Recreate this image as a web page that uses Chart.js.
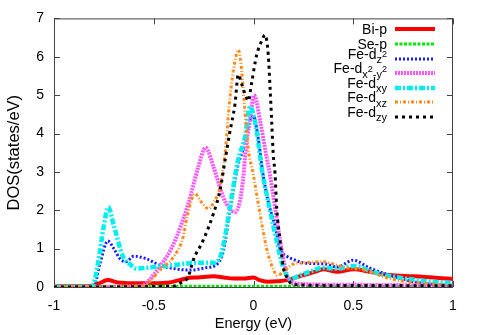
<!DOCTYPE html>
<html>
<head>
<meta charset="utf-8">
<script src="https://cdn.jsdelivr.net/npm/chart.js@4.4.0/dist/chart.umd.min.js"></script>
<style>
  html, body { margin: 0; padding: 0; background: #fff; }
  #wrap { width: 479px; height: 335px; }
</style>
</head>
<body>
<div id="wrap"><canvas id="dos-chart" width="479" height="335"></canvas></div>
<script>
// ---- data (energy in eV, DOS in states/eV) ----
const biE   = [-1, -0.82, -0.78, -0.73, -0.68, -0.6, -0.5, -0.42, -0.37, -0.32, -0.28, -0.2, -0.15, -0.1, -0.05, 0, 0.03, 0.07, 0.12, 0.17, 0.25, 0.3, 0.35, 0.42, 0.5, 0.58, 0.68, 0.8, 0.9, 1];
const biDos = [0.02, 0.02, 0.08, 0.18, 0.12, 0.1, 0.1, 0.12, 0.18, 0.24, 0.25, 0.28, 0.25, 0.22, 0.22, 0.25, 0.18, 0.14, 0.15, 0.18, 0.31, 0.38, 0.46, 0.4, 0.46, 0.4, 0.31, 0.28, 0.25, 0.21];

const seE   = [-1, -0.5, 0, 0.5, 1];
const seDos = [0.02, 0.02, 0.02, 0.02, 0.02];

const dz2E   = [-1, -0.8, -0.77, -0.73, -0.7, -0.67, -0.64, -0.6, -0.54, -0.47, -0.4, -0.32, -0.24, -0.18, -0.15, -0.12, -0.08, -0.05, -0.02, 0, 0.02, 0.05, 0.08, 0.11, 0.13, 0.17, 0.2, 0.25, 0.3, 0.36, 0.42, 0.5, 0.58, 0.68, 0.8, 0.9, 1];
const dz2Dos = [0, 0.02, 0.6, 1.2, 1.0, 0.74, 0.66, 0.8, 0.74, 0.57, 0.48, 0.44, 0.5, 0.61, 0.96, 1.91, 3.12, 3.63, 4.3, 4.45, 4.0, 2.86, 2.1, 1.56, 1.04, 0.79, 0.72, 0.63, 0.61, 0.6, 0.52, 0.7, 0.5, 0.31, 0.14, 0.07, 0.04];

const dx2y2E   = [-1, -0.57, -0.47, -0.4, -0.327, -0.277, -0.24, -0.2, -0.151, -0.12, -0.093, -0.059, -0.034, -0.018, 0.003, 0.033, 0.058, 0.083, 0.108, 0.133, 0.166, 0.2, 0.4, 0.7, 1];
const dx2y2Dos = [0, 0.02, 0.53, 1.13, 2.17, 3.12, 3.63, 3.12, 2.34, 2.05, 1.95, 2.5, 3.8, 4.33, 5.0, 4.33, 3.6, 2.9, 2.08, 1.22, 0.35, 0.1, 0.06, 0.05, 0.04];

const dxyE   = [-1, -0.81, -0.78, -0.75, -0.728, -0.7, -0.654, -0.62, -0.585, -0.5, -0.4, -0.32, -0.25, -0.2, -0.17, -0.153, -0.118, -0.078, -0.043, -0.017, 0.016, 0.041, 0.083, 0.116, 0.148, 0.183, 0.23, 0.283, 0.35, 0.417, 0.508, 0.584, 0.65, 0.75, 0.85, 0.92, 1];
const dxyDos = [0, 0, 0.6, 1.6, 2.08, 1.6, 0.79, 0.6, 0.48, 0.52, 0.57, 0.62, 0.63, 0.63, 0.75, 1.04, 2.08, 3.29, 3.9, 4.7, 4.07, 3.1, 2.0, 1.2, 0.53, 0.2, 0.3, 0.4, 0.5, 0.48, 0.55, 0.42, 0.32, 0.23, 0.16, 0.13, 0.1];

const dxzE   = [-1, -0.56, -0.5, -0.47, -0.4, -0.353, -0.335, -0.293, -0.26, -0.226, -0.2, -0.168, -0.143, -0.118, -0.093, -0.076, -0.059, -0.045, -0.026, 0, 0.033, 0.066, 0.1, 0.12, 0.15, 0.2, 0.25, 0.35, 0.417, 0.484, 0.55, 0.65, 0.75, 0.85, 1];
const dxzDos = [0, 0.02, 0.25, 0.44, 0.79, 1.3, 1.78, 2.43, 2.2, 2.04, 2.2, 2.6, 3.46, 4.93, 5.88, 6.18, 5.62, 4.7, 3.6, 2.9, 1.9, 1.0, 0.45, 0.3, 0.4, 0.6, 0.63, 0.66, 0.57, 0.48, 0.45, 0.27, 0.15, 0.1, 0.04];

const dzyE   = [-1, -0.4, -0.368, -0.327, -0.302, -0.252, -0.201, -0.168, -0.143, -0.12, -0.093, -0.076, -0.06, -0.04, -0.026, -0.01, 0.016, 0.04, 0.058, 0.074, 0.083, 0.091, 0.099, 0.108, 0.116, 0.133, 0.149, 0.166, 0.2, 0.5, 1];
const dzyDos = [0, 0.02, 0.1, 0.27, 0.7, 1.22, 1.91, 2.51, 3.29, 4.0, 4.76, 5.54, 5.3, 5.0, 4.85, 5.3, 6.05, 6.4, 6.57, 6.05, 5.19, 4.33, 3.46, 2.95, 2.08, 1.22, 0.53, 0.27, 0.06, 0.04, 0.03];

// gnuplot-style markup: _{..} subscript, ^c superscript
const seriesNames = ['Bi-p', 'Se-p', 'Fe-d_{z^2}', 'Fe-d_{x^2-y^2}', 'Fe-d_{xy}', 'Fe-d_{xz}', 'Fe-d_{zy}'];
const xTickLabels = ['-1', '-0.5', '0', '0.5', '1'];
const yTickLabels = ['0', '1', '2', '3', '4', '5', '6', '7'];

const FONT = "'Liberation Sans', Arial, Helvetica, sans-serif";

const pts = (e, d) => e.map((v, i) => ({ x: v, y: d[i] }));

const styles = [
  { color: '#ff0000', width: 4, dash: [] },
  { color: '#00e600', width: 3, dash: [3, 1.5] },
  { color: '#1a1aff', width: 3, dash: [2, 2] },
  { color: '#ff55ff', width: 4, dash: [2, 1] },
  { color: '#00f0f0', width: 4.5, dash: [6, 2, 2, 2] },
  { color: '#ff8c1a', width: 3, dash: [3, 2, 1, 2] },
  { color: '#000000', width: 3, dash: [3, 4] }
];

const seriesData = [
  pts(biE, biDos), pts(seE, seDos), pts(dz2E, dz2Dos), pts(dx2y2E, dx2y2Dos),
  pts(dxyE, dxyDos), pts(dxzE, dxzDos), pts(dzyE, dzyDos)
];

const datasets = seriesData.map((d, i) => ({
  label: seriesNames[i],
  data: d,
  borderColor: styles[i].color,
  borderWidth: styles[i].width,
  borderDash: styles[i].dash,
  pointRadius: 0,
  fill: false,
  cubicInterpolationMode: 'monotone',
  order: seriesNames.length - i   // later series drawn on top, like gnuplot
}));

function parseMarkup(str) {
  const segs = [];
  let mode = 'n';
  const push = (t, m) => {
    const last = segs[segs.length - 1];
    if (last && last.mode === m) last.t += t; else segs.push({ t, mode: m });
  };
  for (let i = 0; i < str.length; i++) {
    if (str.startsWith('_{', i)) { mode = 'sub'; i++; continue; }
    const c = str[i];
    if (c === '}') { mode = 'n'; continue; }
    if (c === '^') { push(str[i + 1], 'sup'); i++; continue; }
    push(c, mode);
  }
  return segs;
}

const segFont = { n: '14px ' + FONT, sub: '11px ' + FONT, sup: '9px ' + FONT };
const segShift = { n: 0, sub: 4.5, sup: -1.5 };

// frame + inward ticks on all four sides
const framePlugin = {
  id: 'frame',
  beforeDatasetsDraw(chart) {
    const { ctx, chartArea: a, scales: { x, y } } = chart;
    ctx.save();
    ctx.strokeStyle = '#444';
    ctx.lineWidth = 1;
    ctx.strokeRect(a.left + 0.5, a.top + 0.5, a.right - a.left - 1, a.bottom - a.top);
    ctx.beginPath();
    x.ticks.forEach(t => {
      const px = Math.round(x.getPixelForValue(t.value)) + 0.5;
      ctx.moveTo(px, a.bottom); ctx.lineTo(px, a.bottom - 6);
      ctx.moveTo(px, a.top); ctx.lineTo(px, a.top + 6);
    });
    y.ticks.forEach(t => {
      const py = Math.round(y.getPixelForValue(t.value)) + 0.5;
      ctx.moveTo(a.left, py); ctx.lineTo(a.left + 6, py);
      ctx.moveTo(a.right, py); ctx.lineTo(a.right - 6, py);
    });
    ctx.stroke();
    ctx.restore();
  }
};

// key in the upper right, text right-aligned with sample line after it
const keyPlugin = {
  id: 'gpKey',
  afterDatasetsDraw(chart) {
    const ctx = chart.ctx;
    const textRight = 387, lineL = 395, lineR = 435;
    ctx.save();
    chart.data.datasets.forEach((ds, i) => {
      const rowY = 29.3 + 14.6 * i;
      const segs = parseMarkup(ds.label);
      const hasSub = segs.some(s => s.mode !== 'n');
      const base = hasSub ? rowY : rowY + 5;
      let w = 0;
      segs.forEach(s => { ctx.font = segFont[s.mode]; s.w = ctx.measureText(s.t).width; w += s.w; });
      let cx = textRight - w;
      ctx.fillStyle = '#000';
      ctx.textBaseline = 'alphabetic';
      ctx.textAlign = 'left';
      segs.forEach(s => {
        ctx.font = segFont[s.mode];
        ctx.fillText(s.t, cx, base + segShift[s.mode]);
        cx += s.w;
      });
      ctx.beginPath();
      ctx.strokeStyle = ds.borderColor;
      ctx.lineWidth = ds.borderWidth;
      ctx.setLineDash(ds.borderDash);
      ctx.moveTo(lineL, Math.round(rowY));
      ctx.lineTo(lineR, Math.round(rowY));
      ctx.stroke();
    });
    ctx.restore();
  }
};

new Chart(document.getElementById('dos-chart').getContext('2d'), {
  type: 'line',
  data: { datasets },
  options: {
    responsive: false,
    animation: false,
    layout: { padding: { top: 17, right: 26, left: 0, bottom: 0 } },
    plugins: { legend: { display: false }, tooltip: { enabled: false } },
    scales: {
      x: {
        type: 'linear', min: -1, max: 1,
        afterFit: s => { s.height = 48; },
        grid: { display: false, drawTicks: false },
        border: { display: false },
        ticks: {
          stepSize: 0.5, padding: 11, color: '#000', maxRotation: 0,
          font: { family: FONT, size: 14 },
          callback: (v, i) => xTickLabels[i]
        },
        title: {
          display: true, text: 'Energy (eV)', color: '#000',
          font: { family: FONT, size: 14.5 }, padding: { top: 0, bottom: 2 }
        }
      },
      y: {
        min: 0, max: 7,
        afterFit: s => { s.width = 54; },
        grid: { display: false, drawTicks: false },
        border: { display: false },
        ticks: {
          stepSize: 1, padding: 10, color: '#000',
          font: { family: FONT, size: 14 },
          callback: (v, i) => yTickLabels[i]
        },
        title: {
          display: true, text: 'DOS(states/eV)', color: '#000',
          font: { family: FONT, size: 16.5 }, padding: { top: 5, bottom: 0 }
        }
      }
    }
  },
  plugins: [framePlugin, keyPlugin]
});
</script>
</body>
</html>
